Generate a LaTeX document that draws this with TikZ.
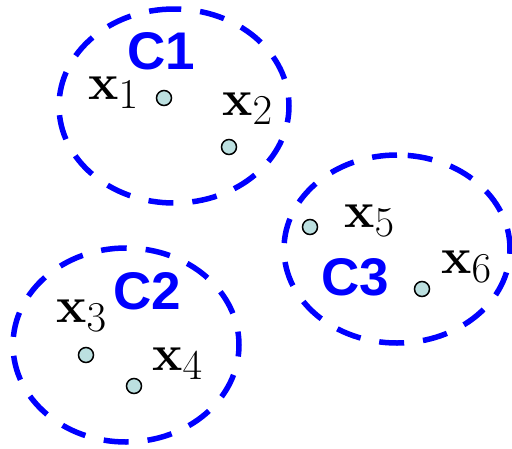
\documentclass[tikz,border=0pt]{standalone}
\usepackage[no-math]{fontspec}
\newfontfamily\clfont{Liberation Sans}
\definecolor{ptfill}{RGB}{188,224,224}
\begin{document}
\begin{tikzpicture}[x=1pt,y=-1pt,
  cluster/.style={draw=blue,line width=5.5pt,dash pattern=on 25pt off 19pt},
  pt/.style={circle,draw=black,line width=1.5pt,fill=ptfill,minimum size=15pt,inner sep=0pt},
  clabel/.style={text=blue,font=\clfont\bfseries\fontsize{53}{60}\selectfont,inner sep=0pt},
  xlabel/.style={anchor=base west,inner sep=0pt,font=\Huge,scale=2.05}]
\useasboundingbox (0,0) rectangle (512,448);
% clusters
\coordinate (c1) at (174,106);
\coordinate (c2) at (126,345);
\coordinate (c3) at (397,249);
\draw[cluster] (c1) ++(0,-97) arc[start angle=90,end angle=450,x radius=115,y radius=-97];
\draw[cluster] (c2) ++(0,-97) arc[start angle=90,end angle=450,x radius=113,y radius=-97];
\draw[cluster] (c3) ++(0,-94) arc[start angle=90,end angle=450,x radius=113,y radius=-94];
% labels
\node[clabel] (l1) at (161,51) {C1};
\node[clabel] (l2) at (147,291) {C2};
\node[clabel] (l3) at (355,277) {C3};
% points
\node[pt] (p1) at (164,98) {};
\node[pt] (p2) at (229,147) {};
\node[pt] (p3) at (86,355) {};
\node[pt] (p4) at (134,386) {};
\node[pt] (p5) at (310,227) {};
\node[pt] (p6) at (422,289) {};
% point labels
\node[xlabel] (t1) at (88,99) {$\mathbf{x}_1$};
\node[xlabel] (t2) at (222,115) {$\mathbf{x}_2$};
\node[xlabel] (t3) at (56,322) {$\mathbf{x}_3$};
\node[xlabel] (t4) at (152,370) {$\mathbf{x}_4$};
\node[xlabel] (t5) at (344,227) {$\mathbf{x}_5$};
\node[xlabel] (t6) at (441,273) {$\mathbf{x}_6$};
\end{tikzpicture}
\end{document}
